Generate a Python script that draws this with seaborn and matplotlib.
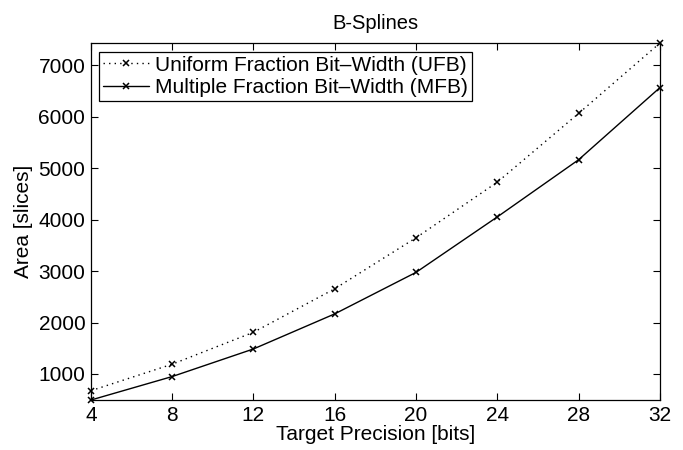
import matplotlib
matplotlib.use("Agg")
import matplotlib.pyplot as plt
import seaborn as sns

# --- data ---
precision = [4, 8, 12, 16, 20, 24, 28, 32]
ufb_area = [675, 1190, 1810, 2655, 3645, 4725, 6060, 7425]
mfb_area = [494, 950, 1486, 2167, 2973, 4050, 5160, 6560]

ufb_label = "Uniform Fraction Bit\u2013Width (UFB)"
mfb_label = "Multiple Fraction Bit\u2013Width (MFB)"

sns.set_style("ticks")
plt.rcParams["font.family"] = ["Liberation Sans", "DejaVu Sans"]
plt.rcParams["text.color"] = "black"
plt.rcParams["axes.labelcolor"] = "black"
plt.rcParams["xtick.color"] = "black"
plt.rcParams["ytick.color"] = "black"
plt.rcParams["axes.edgecolor"] = "black"

fig = plt.figure(figsize=(6.83, 4.5), dpi=100)
ax = fig.add_axes([0.133, 0.111, 0.833, 0.793])

sns.lineplot(x=precision, y=ufb_area, color="black", linestyle=(0, (1, 3)),
             marker="x", markersize=5, markeredgewidth=1.1,
             markeredgecolor="black", linewidth=1.0, label=ufb_label,
             clip_on=False, ax=ax)
sns.lineplot(x=precision, y=mfb_area, color="black", linestyle="-",
             marker="x", markersize=5, markeredgewidth=1.1,
             markeredgecolor="black", linewidth=1.0, label=mfb_label,
             clip_on=False, ax=ax)

ax.set_xlim(min(precision), max(precision))
ax.set_ylim(min(mfb_area), max(ufb_area))
ax.set_xticks(precision)
ax.set_yticks([1000, 2000, 3000, 4000, 5000, 6000, 7000])
ax.tick_params(direction="in", labelsize=15, length=5, width=0.8,
               top=True, right=True, pad=4)
for s in ax.spines.values():
    s.set_linewidth(0.9)
    s.set_visible(True)

ax.set_title("B-Splines", fontsize=14.5, pad=10)
ax.set_xlabel("Target Precision [bits]", fontsize=15, labelpad=0)
ax.set_ylabel("Area [slices]", fontsize=15, labelpad=4)

leg = ax.legend(loc="upper left", fontsize=15, frameon=True, fancybox=False,
                handlelength=2.2, handletextpad=0.3, borderpad=0.2,
                labelspacing=0.15, borderaxespad=0.4)
leg.get_frame().set_edgecolor("black")
leg.get_frame().set_linewidth(0.9)
leg.get_frame().set_alpha(1)

fig.savefig("out.png", dpi=100)
